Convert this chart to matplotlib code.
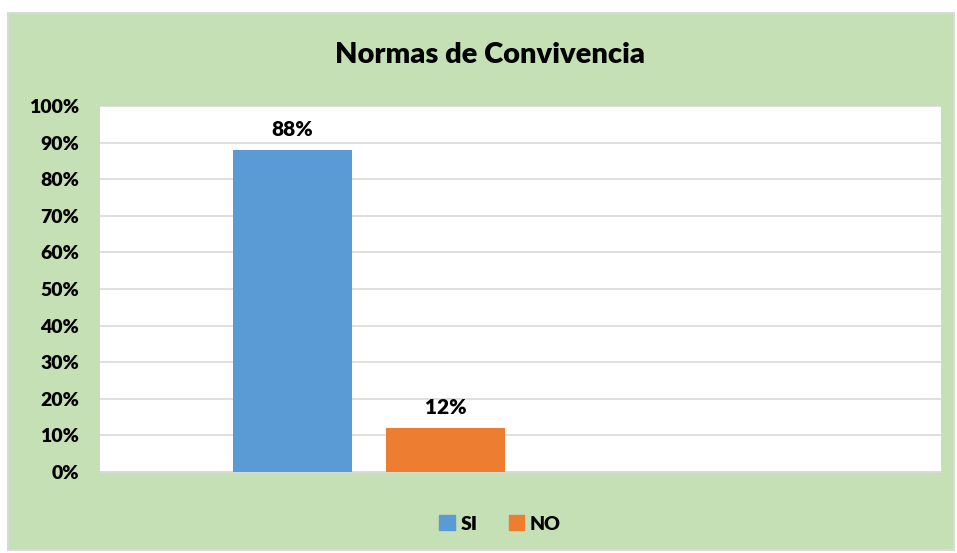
import matplotlib.pyplot as plt
from matplotlib.patches import Rectangle
from matplotlib.ticker import PercentFormatter

# Data
series = ["SI", "NO"]
values = [0.88, 0.12]
colors = ["#5B9BD5", "#ED7D31"]
yticks = [0, 0.1, 0.2, 0.3, 0.4, 0.5, 0.6, 0.7, 0.8, 0.9, 1.0]

plt.rcParams['font.family'] = ['Lato', 'DejaVu Sans']
plt.rcParams['font.weight'] = 'bold'

W, H = 957, 553
fig = plt.figure(figsize=(W / 100, H / 100), dpi=100)
fig.patch.set_facecolor("white")

# green chart box, behind the axes
fig.patches.append(Rectangle((8 / W, 1 - 550 / H), 946 / W, 537 / H,
                             transform=fig.transFigure, facecolor="#C5E0B4",
                             edgecolor="#D9D9D9", linewidth=1.5, zorder=-10))

ax = fig.add_axes([100 / W, 1 - 472 / H, 841 / W, 366 / H])
ax.set_facecolor("white")

x = list(range(len(series)))
ax.bar(x, values, width=0.78, color=colors, zorder=3)

for xi, v in zip(x, values):
    ax.text(xi, v + 0.03, f"{v:.0%}", ha="center", va="bottom",
            fontsize=15, fontweight="heavy", color="black")

ax.set_xlim(-1.258, 4.238)
ax.set_ylim(0, 1)
ax.set_yticks(yticks)
ax.yaxis.set_major_formatter(PercentFormatter(1.0, decimals=0))
ax.grid(axis="y", color="#D9D9D9", linewidth=1.2, zorder=0)
ax.set_xticks([])
ax.tick_params(axis="y", length=0, labelsize=14, pad=15)
for lbl in ax.get_yticklabels():
    lbl.set_fontweight("heavy")
for side in ["top", "right", "left"]:
    ax.spines[side].set_visible(False)
ax.spines["bottom"].set_color("#D9D9D9")
ax.spines["bottom"].set_linewidth(1.2)

fig.text(490 / W, 1 - 55 / H, "Normas de Convivencia", ha="center", va="center",
         fontsize=21, fontweight="heavy")

handles = [Rectangle((0, 0), 1, 1, color=c) for c in colors]
fig.legend(handles, series, loc="center", bbox_to_anchor=(500 / W, 1 - 524 / H),
           ncol=2, frameon=False, prop={"size": 14, "weight": "heavy"},
           handlelength=0.8, handleheight=0.8,
           handletextpad=0.3, columnspacing=1.6)

fig.savefig("out.png", dpi=100)
